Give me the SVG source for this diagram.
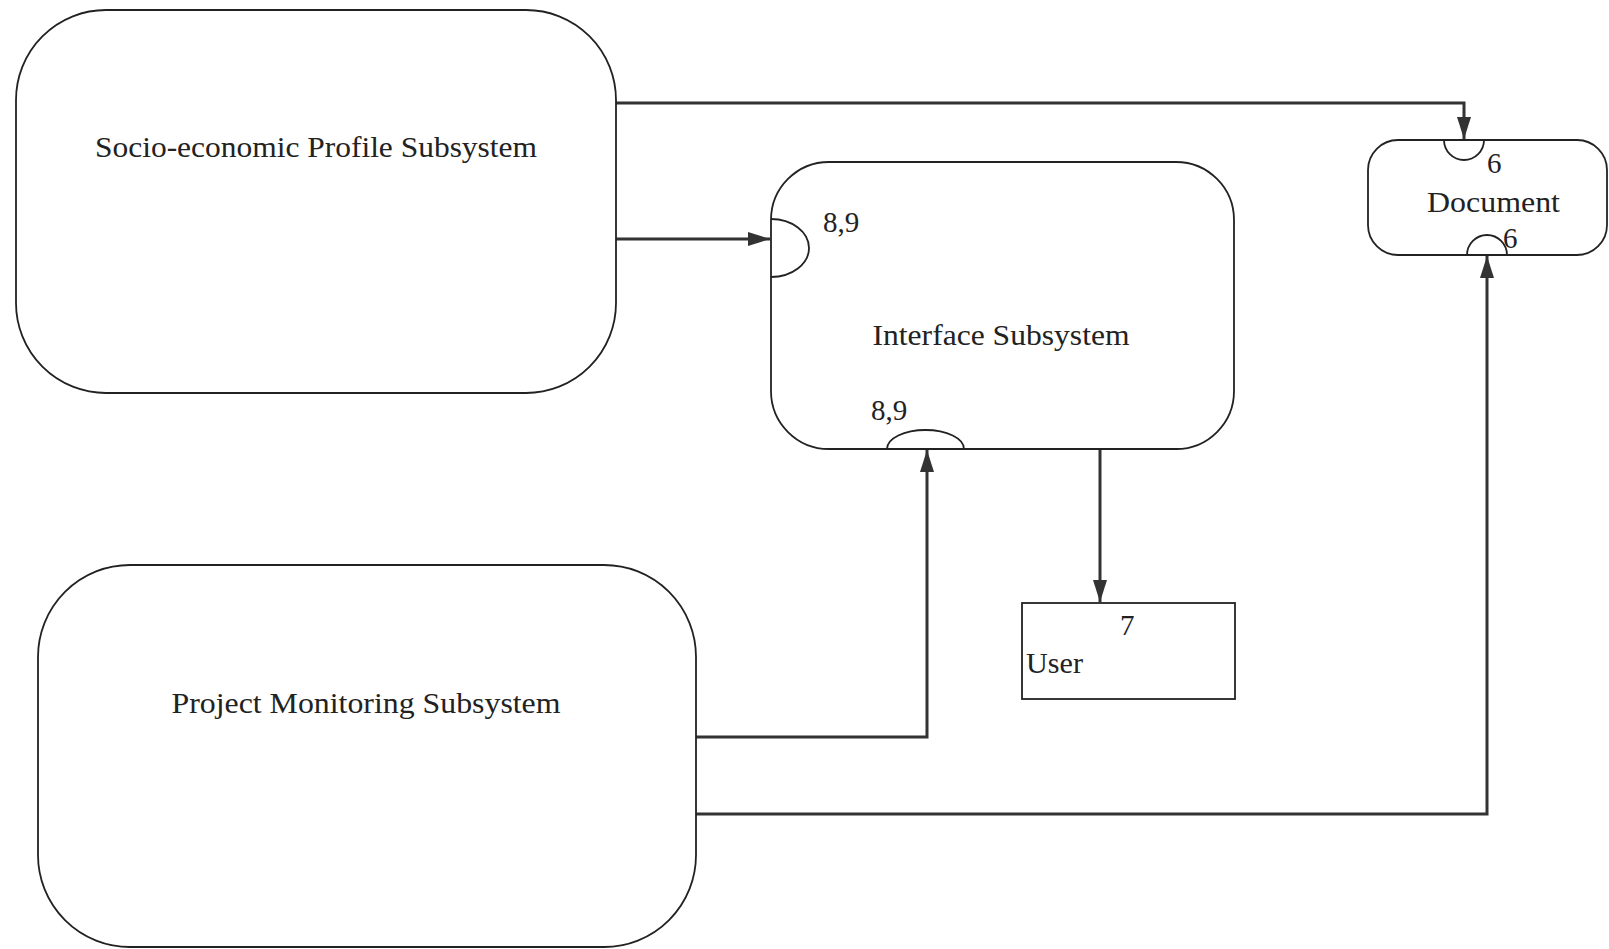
<svg xmlns="http://www.w3.org/2000/svg" width="1609" height="949" viewBox="0 0 1609 949">
<style>
.box{fill:#fff;stroke:#222;stroke-width:1.8}
.port{fill:none;stroke:#222;stroke-width:1.8}
.lbl{font-family:"Liberation Serif","Times New Roman",serif;font-size:29px;fill:#222}
.conn{fill:none;stroke:#333;stroke-width:3}
</style>
<defs>
<marker id="arr" markerUnits="userSpaceOnUse" markerWidth="24" markerHeight="16" refX="22" refY="8" orient="auto">
<path d="M0,1 L22,8 L0,15 Z" fill="#333"/>
</marker>
</defs>
<rect width="1609" height="949" fill="#fff"/>
<g id="connectors">
<path class="conn" d="M616,103 H1464 V139" marker-end="url(#arr)"/>
<path class="conn" d="M616,239 H770" marker-end="url(#arr)"/>
<path class="conn" d="M696,737 H927 V450" marker-end="url(#arr)"/>
<path class="conn" d="M1100,449 V602" marker-end="url(#arr)"/>
<path class="conn" d="M696,814 H1487 V256" marker-end="url(#arr)"/>
</g>
<g id="socio">
<rect class="box" x="16" y="10" width="600" height="383" rx="90" ry="90"/>
<text class="lbl" x="316" y="157" text-anchor="middle" textLength="442" lengthAdjust="spacingAndGlyphs">Socio-economic Profile Subsystem</text>
</g>
<g id="interface">
<rect class="box" x="771" y="162" width="463" height="287" rx="58" ry="58"/>
<path class="port" d="M771,219 A38,29 0 0 1 771,277"/>
<path class="port" d="M887,449 A38.5,19 0 0 1 964,449"/>
<text class="lbl" x="823" y="232">8,9</text>
<text class="lbl" x="871" y="420">8,9</text>
<text class="lbl" x="1001" y="345" text-anchor="middle" textLength="257" lengthAdjust="spacingAndGlyphs">Interface Subsystem</text>
</g>
<g id="document">
<rect class="box" x="1368" y="140" width="239" height="115" rx="30" ry="30"/>
<path class="port" d="M1444,140 A20,20 0 0 0 1484,140"/>
<path class="port" d="M1467,255 A20,20 0 0 1 1507,255"/>
<text class="lbl" x="1487" y="173">6</text>
<text class="lbl" x="1427" y="212" textLength="133" lengthAdjust="spacingAndGlyphs">Document</text>
<text class="lbl" x="1503" y="248">6</text>
</g>
<g id="user">
<rect class="box" x="1022" y="603" width="213" height="96"/>
<text class="lbl" x="1120" y="635">7</text>
<text class="lbl" x="1026" y="673" textLength="57" lengthAdjust="spacingAndGlyphs">User</text>
</g>
<g id="project">
<rect class="box" x="38" y="565" width="658" height="382" rx="92" ry="92"/>
<text class="lbl" x="366" y="713" text-anchor="middle" textLength="389" lengthAdjust="spacingAndGlyphs">Project Monitoring Subsystem</text>
</g>
</svg>
